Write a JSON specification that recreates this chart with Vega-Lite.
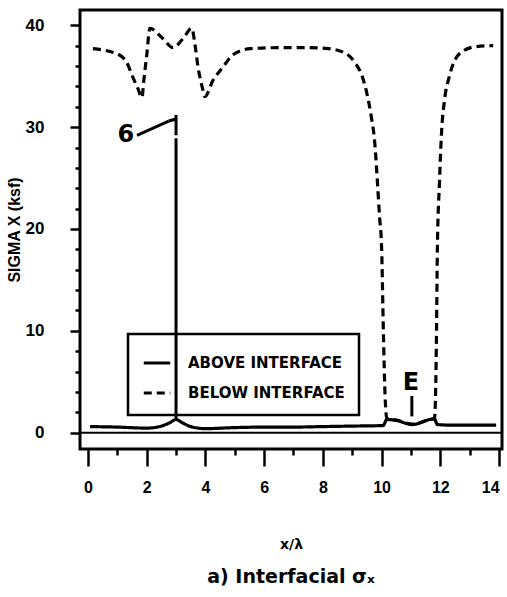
{
  "$schema": "https://vega.github.io/schema/vega-lite/v6.json",
  "width": 422,
  "height": 439,
  "autosize": {"type": "none"},
  "padding": {"left": 80, "top": 10, "right": 5, "bottom": 148},
  "background": "white",
  "config": {
    "view": {"stroke": "black", "strokeWidth": 3},
    "axis": {"domain": false, "grid": false, "tickColor": "black", "tickWidth": 2.5, "labelColor": "black", "titleColor": "black"},
    "legend": {"strokeWidth": 2.5}
  },
  "title": {"text": "a) Interfacial σₓ", "orient": "bottom", "offset": 17, "font": "DejaVu Sans", "fontSize": 19, "fontWeight": "bold", "color": "black", "anchor": "middle", "baseline": "top"},
  "datasets": {
    "curves": [
      {"series": "ABOVE INTERFACE", "x": 0.07, "y": 0.6},
      {"series": "ABOVE INTERFACE", "x": 1.0, "y": 0.55},
      {"series": "ABOVE INTERFACE", "x": 2.0, "y": 0.45},
      {"series": "ABOVE INTERFACE", "x": 2.5, "y": 0.65},
      {"series": "ABOVE INTERFACE", "x": 2.8, "y": 1.0},
      {"series": "ABOVE INTERFACE", "x": 3.0, "y": 1.3},
      {"series": "ABOVE INTERFACE", "x": 3.2, "y": 1.0},
      {"series": "ABOVE INTERFACE", "x": 3.5, "y": 0.6},
      {"series": "ABOVE INTERFACE", "x": 4.0, "y": 0.4},
      {"series": "ABOVE INTERFACE", "x": 5.0, "y": 0.5},
      {"series": "ABOVE INTERFACE", "x": 6.0, "y": 0.55},
      {"series": "ABOVE INTERFACE", "x": 7.0, "y": 0.55},
      {"series": "ABOVE INTERFACE", "x": 8.0, "y": 0.6},
      {"series": "ABOVE INTERFACE", "x": 9.0, "y": 0.65},
      {"series": "ABOVE INTERFACE", "x": 10.05, "y": 0.7},
      {"series": "ABOVE INTERFACE", "x": 10.18, "y": 1.3},
      {"series": "ABOVE INTERFACE", "x": 10.5, "y": 1.2},
      {"series": "ABOVE INTERFACE", "x": 11.05, "y": 0.8},
      {"series": "ABOVE INTERFACE", "x": 11.65, "y": 1.3},
      {"series": "ABOVE INTERFACE", "x": 11.8, "y": 1.35},
      {"series": "ABOVE INTERFACE", "x": 11.9, "y": 0.8},
      {"series": "ABOVE INTERFACE", "x": 12.3, "y": 0.75},
      {"series": "ABOVE INTERFACE", "x": 13.0, "y": 0.75},
      {"series": "ABOVE INTERFACE", "x": 13.9, "y": 0.75},
      {"series": "BELOW INTERFACE", "x": 0.17, "y": 37.7},
      {"series": "BELOW INTERFACE", "x": 0.99, "y": 37.2},
      {"series": "BELOW INTERFACE", "x": 1.33, "y": 36.3},
      {"series": "BELOW INTERFACE", "x": 1.53, "y": 34.9},
      {"series": "BELOW INTERFACE", "x": 1.7, "y": 33.8},
      {"series": "BELOW INTERFACE", "x": 1.84, "y": 32.9},
      {"series": "BELOW INTERFACE", "x": 1.9, "y": 34.5},
      {"series": "BELOW INTERFACE", "x": 2.0, "y": 37.0},
      {"series": "BELOW INTERFACE", "x": 2.11, "y": 39.7},
      {"series": "BELOW INTERFACE", "x": 2.55, "y": 38.7},
      {"series": "BELOW INTERFACE", "x": 2.9, "y": 37.8},
      {"series": "BELOW INTERFACE", "x": 3.24, "y": 38.7},
      {"series": "BELOW INTERFACE", "x": 3.54, "y": 39.7},
      {"series": "BELOW INTERFACE", "x": 3.64, "y": 38.2},
      {"series": "BELOW INTERFACE", "x": 3.75, "y": 35.9},
      {"series": "BELOW INTERFACE", "x": 3.92, "y": 33.6},
      {"series": "BELOW INTERFACE", "x": 3.98, "y": 33.0},
      {"series": "BELOW INTERFACE", "x": 4.26, "y": 34.6},
      {"series": "BELOW INTERFACE", "x": 4.6, "y": 35.9},
      {"series": "BELOW INTERFACE", "x": 4.94, "y": 37.1},
      {"series": "BELOW INTERFACE", "x": 5.52, "y": 37.7},
      {"series": "BELOW INTERFACE", "x": 6.5, "y": 37.8},
      {"series": "BELOW INTERFACE", "x": 7.5, "y": 37.8},
      {"series": "BELOW INTERFACE", "x": 8.2, "y": 37.7},
      {"series": "BELOW INTERFACE", "x": 8.8, "y": 37.2},
      {"series": "BELOW INTERFACE", "x": 9.1, "y": 36.3},
      {"series": "BELOW INTERFACE", "x": 9.35, "y": 34.9},
      {"series": "BELOW INTERFACE", "x": 9.5, "y": 33.3},
      {"series": "BELOW INTERFACE", "x": 9.65, "y": 31.0},
      {"series": "BELOW INTERFACE", "x": 9.76, "y": 28.7},
      {"series": "BELOW INTERFACE", "x": 9.86, "y": 24.5},
      {"series": "BELOW INTERFACE", "x": 9.93, "y": 21.2},
      {"series": "BELOW INTERFACE", "x": 10.0, "y": 18.2},
      {"series": "BELOW INTERFACE", "x": 10.06, "y": 10.0},
      {"series": "BELOW INTERFACE", "x": 10.12, "y": 3.5},
      {"series": "BELOW INTERFACE", "x": 10.18, "y": 1.4},
      {"series": "BELOW INTERFACE", "x": 10.5, "y": 1.25},
      {"series": "BELOW INTERFACE", "x": 11.05, "y": 0.85},
      {"series": "BELOW INTERFACE", "x": 11.65, "y": 1.3},
      {"series": "BELOW INTERFACE", "x": 11.8, "y": 1.4},
      {"series": "BELOW INTERFACE", "x": 11.84, "y": 4.0},
      {"series": "BELOW INTERFACE", "x": 11.87, "y": 10.0},
      {"series": "BELOW INTERFACE", "x": 11.9, "y": 18.2},
      {"series": "BELOW INTERFACE", "x": 11.97, "y": 24.5},
      {"series": "BELOW INTERFACE", "x": 12.04, "y": 29.4},
      {"series": "BELOW INTERFACE", "x": 12.14, "y": 32.6},
      {"series": "BELOW INTERFACE", "x": 12.3, "y": 34.9},
      {"series": "BELOW INTERFACE", "x": 12.65, "y": 37.2},
      {"series": "BELOW INTERFACE", "x": 13.2, "y": 37.9},
      {"series": "BELOW INTERFACE", "x": 13.8, "y": 38.0}
    ],
    "segments": [
      {"x": 3.0, "y": 1.3, "x2": 3.0, "y2": 28.9},
      {"x": 3.0, "y": 29.2, "x2": 3.0, "y2": 31.2},
      {"x": 1.67, "y": 29.2, "x2": 2.75, "y2": 30.6},
      {"x": 2.75, "y": 30.6, "x2": 3.0, "y2": 30.8},
      {"x": 11.03, "y": 1.6, "x2": 11.03, "y2": 3.6}
    ],
    "zeroline": [
      {"x": -0.27, "y": 0, "x2": 14.1, "y2": 0}
    ],
    "labels": [
      {"x": 1.29, "y": 29.2, "label": "6"},
      {"x": 11.0, "y": 4.9, "label": "E"}
    ]
  },
  "encoding": {
    "x": {
      "field": "x", "type": "quantitative",
      "scale": {"domain": [-0.27, 14.1], "nice": false, "zero": false},
      "axis": {
        "title": "x/λ",
        "values": [0, 1, 2, 3, 4, 5, 6, 7, 8, 9, 10, 11, 12, 13, 14],
        "labelExpr": "datum.value % 2 === 0 ? datum.label : ''",
        "tickSize": {"condition": {"test": "datum.value % 2 !== 0", "value": 6}, "value": 17},
        "labelAlign": {"condition": {"test": "datum.value === 14", "value": "right"}, "value": "center"},
        "labelPadding": 13,
        "labelFont": "Liberation Sans",
        "labelFontSize": 16,
        "labelFontWeight": "bold",
        "labelFlush": false,
        "labelOverlap": false,
        "titleFont": "DejaVu Sans",
        "titleFontSize": 14,
        "titleFontWeight": "bold",
        "titlePadding": 42
      }
    },
    "y": {
      "field": "y", "type": "quantitative",
      "scale": {"domain": [-1.6, 41.5], "nice": false, "zero": false},
      "axis": {
        "title": "SIGMA X (ksf)",
        "values": [0, 2, 4, 6, 8, 10, 12, 14, 16, 18, 20, 22, 24, 26, 28, 30, 32, 34, 36, 38, 40],
        "labelExpr": "datum.value % 10 === 0 ? datum.label : ''",
        "tickSize": {"condition": {"test": "datum.value % 10 !== 0", "value": 5}, "value": 10},
        "labelPadding": 26,
        "labelFont": "Liberation Sans",
        "labelFontSize": 17,
        "labelFontWeight": "bold",
        "labelOverlap": false,
        "titleFont": "Liberation Sans",
        "titleFontSize": 16,
        "titleFontWeight": "bold",
        "titlePadding": 3
      }
    }
  },
  "layer": [
    {
      "data": {"name": "zeroline"},
      "mark": {"type": "rule", "color": "black", "strokeWidth": 2},
      "encoding": {"x2": {"field": "x2"}, "y2": {"field": "y2"}}
    },
    {
      "data": {"name": "curves"},
      "mark": {"type": "line", "interpolate": "monotone", "strokeWidth": 3.2, "color": "black"},
      "encoding": {
        "strokeDash": {
          "field": "series", "type": "nominal",
          "scale": {"domain": ["ABOVE INTERFACE", "BELOW INTERFACE"], "range": [[1, 0], [8, 5]]},
          "legend": {
            "title": null,
            "orient": "none",
            "legendX": 48,
            "legendY": 324,
            "strokeColor": "black",
            "padding": 14,
            "symbolType": "stroke",
            "symbolStrokeWidth": 3,
            "symbolSize": 700,
            "symbolStrokeColor": "black",
            "labelFont": "DejaVu Sans",
            "labelFontSize": 15,
            "labelFontWeight": "bold",
            "labelColor": "black",
            "labelOffset": 16,
            "rowPadding": 7
          }
        }
      }
    },
    {
      "data": {"name": "segments"},
      "mark": {"type": "rule", "color": "black", "strokeWidth": 3},
      "encoding": {"x2": {"field": "x2"}, "y2": {"field": "y2"}}
    },
    {
      "data": {"name": "labels"},
      "mark": {"type": "text", "font": "DejaVu Sans", "fontSize": 24, "fontWeight": "bold", "color": "black", "align": "center", "baseline": "middle"},
      "encoding": {"text": {"field": "label"}}
    }
  ]
}
